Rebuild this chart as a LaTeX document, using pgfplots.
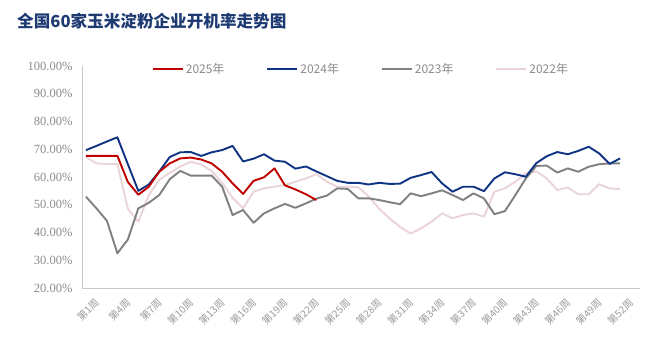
\documentclass[border=0pt]{standalone}
\usepackage{pgfplots}
\pgfplotsset{compat=1.18}
\usepackage{fontspec}
\setmainfont{Liberation Serif}
\newfontfamily\cjk{Noto Sans CJK SC}
\definecolor{c25}{RGB}{192,0,0}
\definecolor{c24}{RGB}{16,52,132}
\definecolor{c23}{RGB}{128,128,128}
\definecolor{c22}{RGB}{234,212,215}
\definecolor{tgray}{RGB}{140,140,140}
\definecolor{xgray}{RGB}{155,155,155}
\definecolor{ttl}{RGB}{30,58,115}
\begin{document}
\begin{tikzpicture}
\path[use as bounding box] (0,0) rectangle (660bp,353bp);
\fill[white] (0,0) rectangle (660bp,353bp);
\node[anchor=west, text=ttl, font=\cjk\bfseries\fontsize{16.6bp}{18bp}\selectfont, inner sep=0pt] at (17bp,332bp) {全国60家玉米淀粉企业开机率走势图};
\begin{axis}[at={(82bp,65bp)}, anchor=south west, scale only axis,
  width=558bp, height=222bp,
  xmin=0.62, xmax=53.9, ymin=20, ymax=100,
  axis x line*=bottom, axis y line*=left,
  axis line style={draw=black!22, line width=0.8bp, -},
  xtick={1,4,...,52},
  xticklabels={第1周,第4周,第7周,第10周,第13周,第16周,第19周,第22周,第25周,第28周,第31周,第34周,第37周,第40周,第43周,第46周,第49周,第52周},
  ytick={20,30,...,100},
  yticklabels={20.00\%,30.00\%,40.00\%,50.00\%,60.00\%,70.00\%,80.00\%,90.00\%,100.00\%},
  major tick length=0pt,
  tick label style={text=tgray},
  yticklabel style={font=\fontsize{12.5bp}{14bp}\selectfont, xshift=-6bp},
  xticklabel style={font=\cjk\fontsize{10bp}{12bp}\selectfont, text=xgray, rotate=45, anchor=north east, yshift=-9bp, xshift=2bp},
  legend style={at={(0.5,0.986)}, anchor=center, draw=none, fill=none, legend columns=4,
    font=\cjk\fontsize{12bp}{14bp}\selectfont, text=tgray,
    /tikz/every even column/.append style={column sep=40bp}},
  legend image code/.code={\draw[#1] (0bp,0bp) -- (30bp,0bp);},
  every axis plot/.append style={line width=1.9bp, line join=round},
]
\addlegendimage{c25, line width=1.9bp}\addlegendentry{2025年}
\addlegendimage{c24, line width=1.9bp}\addlegendentry{2024年}
\addlegendimage{c23, line width=1.9bp}\addlegendentry{2023年}
\addlegendimage{c22, line width=1.9bp}\addlegendentry{2022年}
% 2022
\addplot[c22, forget plot] coordinates {
(1,67.2)(2,64.9)(3,64.7)(4,64.7)(5,48.5)(6,43.9)(7,53.5)(8,59.0)(9,61.5)(10,63.8)
(11,65.5)(12,64.5)(13,62.2)(14,57.9)(15,52.5)(16,48.7)(17,54.7)(18,55.9)(19,56.5)(20,57.1)
(21,58.3)(22,59.5)(23,61.0)(24,58.3)(25,56.5)(26,56.5)(27,56.3)(28,53.0)(29,48.5)(30,45.0)
(31,42.0)(32,39.6)(33,41.5)(34,43.9)(35,46.9)(36,45.1)(37,46.3)(38,46.9)(39,45.7)(40,54.7)
(41,55.9)(42,58.3)(43,61.3)(44,62.0)(45,59.5)(46,55.3)(47,56.2)(48,53.8)(49,53.8)(50,57.4)
(51,55.9)(52,55.7)};
% 2023
\addplot[c23, forget plot] coordinates {
(1,52.9)(2,48.7)(3,44.2)(4,32.5)(5,37.5)(6,48.7)(7,50.7)(8,53.5)(9,59.2)(10,62.2)
(11,60.5)(12,60.5)(13,60.5)(14,56.5)(15,46.3)(16,48.1)(17,43.5)(18,46.9)(19,48.7)(20,50.3)
(21,48.9)(22,50.5)(23,52.2)(24,53.3)(25,55.9)(26,55.7)(27,52.3)(28,52.3)(29,51.7)(30,50.9)
(31,50.2)(32,54.1)(33,53.1)(34,54.1)(35,55.2)(36,53.5)(37,51.7)(38,54.1)(39,52.3)(40,46.6)
(41,47.7)(42,53.5)(43,59.5)(44,64.0)(45,64.1)(46,61.6)(47,63.1)(48,61.9)(49,63.7)(50,64.6)
(51,64.9)(52,64.9)};
% 2024
\addplot[c24, forget plot] coordinates {
(1,69.7)(2,71.2)(3,72.8)(4,74.3)(5,64.6)(6,55.0)(7,57.3)(8,62.0)(9,67.2)(10,68.9)
(11,69.0)(12,67.6)(13,68.9)(14,69.7)(15,71.2)(16,65.6)(17,66.6)(18,68.2)(19,65.9)(20,65.5)
(21,63.0)(22,63.8)(23,62.0)(24,60.3)(25,58.6)(26,57.9)(27,57.9)(28,57.3)(29,57.9)(30,57.5)
(31,57.6)(32,59.7)(33,60.7)(34,61.8)(35,57.7)(36,54.7)(37,56.5)(38,56.5)(39,54.9)(40,59.5)
(41,61.7)(42,61.0)(43,60.1)(44,65.0)(45,67.5)(46,69.0)(47,68.2)(48,69.4)(49,70.9)(50,68.5)
(51,64.7)(52,66.7)};
% 2025
\addplot[c25, forget plot] coordinates {
(1,67.6)(2,67.6)(3,67.6)(4,67.6)(5,58.2)(6,53.6)(7,56.5)(8,61.9)(9,64.9)(10,66.7)
(11,67.0)(12,66.3)(13,64.9)(14,61.9)(15,57.7)(16,53.9)(17,58.6)(18,59.9)(19,63.1)(20,57.0)
(21,55.5)(22,53.8)(23,51.7)};
\end{axis}
\end{tikzpicture}
\end{document}
